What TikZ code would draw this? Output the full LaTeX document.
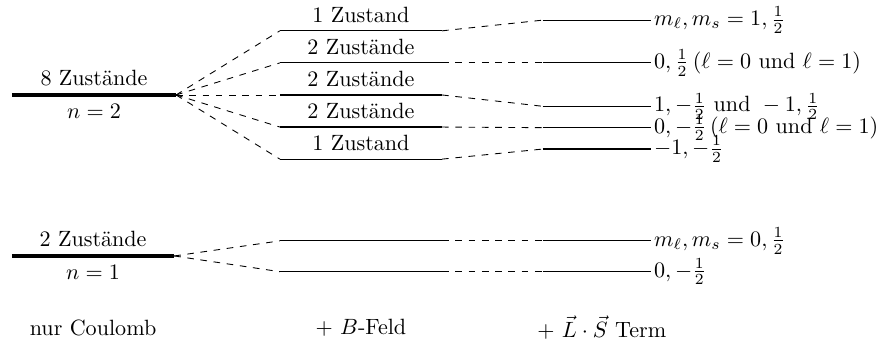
\documentclass[tikz,border=0pt]{standalone}
\usepackage{amsmath}
\usepackage{tikz}
\usetikzlibrary{positioning}

\begin{document}
\begin{tikzpicture}[
    coul/.style={line width=1.5pt},
    lvl/.style={line width=0.5pt},
    conn/.style={dashed, line width=0.4pt},
    rlab/.style={anchor=west, inner sep=1pt},
    stage/.style={inner sep=2pt}
  ]
  \useasboundingbox (0,0) rectangle (13.93,-5.53);
  % nur Coulomb
  \coordinate (c2l) at (0.19,-1.51);
  \coordinate (c2r) at (2.80,-1.51);
  \coordinate (c1l) at (0.19,-4.07);
  \coordinate (c1r) at (2.77,-4.07);
  \draw[coul] (c2l) -- node[above] (c2top) {8 Zustände} node[below] (c2bot) {$n=2$} (c2r);
  \draw[coul] (c1l) -- node[above] (c1top) {2 Zustände} node[below] (c1bot) {$n=1$} (c1r);
  % + B-Feld
  \foreach \i/\y/\txt in {1/-0.49/1 Zustand, 2/-1.00/2 Zustände, 3/-1.51/2 Zustände,
      4/-2.02/2 Zustände, 5/-2.53/1 Zustand} {
    \coordinate (b\i l) at (4.45,\y);
    \coordinate (b\i r) at (7.03,\y);
    \draw[lvl] (b\i l) -- node[above] (bt\i) {\txt} (b\i r);
    \draw[conn] (c2r) -- (b\i l);
  }
  \foreach \i/\y in {6/-3.83, 7/-4.32} {
    \coordinate (b\i l) at (4.45,\y);
    \coordinate (b\i r) at (7.03,\y);
    \draw[lvl] (b\i l) -- (b\i r);
    \draw[conn] (c1r) -- (b\i l);
  }
  % + L.S Term
  \foreach \i/\y in {1/-0.32, 2/-1.00, 3/-1.69, 4/-2.03, 5/-2.37, 6/-3.83, 7/-4.32} {
    \coordinate (l\i l) at (8.63,\y);
    \coordinate (l\i r) at (10.36,\y);
    \draw[lvl] (l\i l) -- (l\i r);
    \draw[conn] (b\i r) -- (l\i l);
  }
  \node[rlab] (lt1) at (l1r) {$m_\ell, m_s = 1, \frac{1}{2}$};
  \node[rlab] (lt2) at (l2r) {$0, \frac{1}{2}\,(\ell = 0$ und $\ell = 1)$};
  \node[rlab] (lt3) at (l3r) {$1, -\frac{1}{2} \text{ und } - 1, \frac{1}{2}$};
  \node[rlab] (lt4) at (l4r) {$0, -\frac{1}{2}\,(\ell = 0$ und $\ell = 1)$};
  \node[rlab] (lt5) at (l5r) {$-1, -\frac{1}{2}$};
  \node[rlab] (lt6) at (l6r) {$m_\ell, m_s = 0, \frac{1}{2}$};
  \node[rlab] (lt7) at (l7r) {$0, -\frac{1}{2}$};
  % Beschriftung unten
  \node[stage] (coulomb) at (1.48,-5.21) {nur Coulomb};
  \node[stage] (bfeld) at (5.74,-5.21) {$+$ $B$-Feld};
  \node[stage] (lsterm) at (9.57,-5.21) {$+$ $\vec{L}\cdot\vec{S}$ Term};
\end{tikzpicture}
\end{document}
